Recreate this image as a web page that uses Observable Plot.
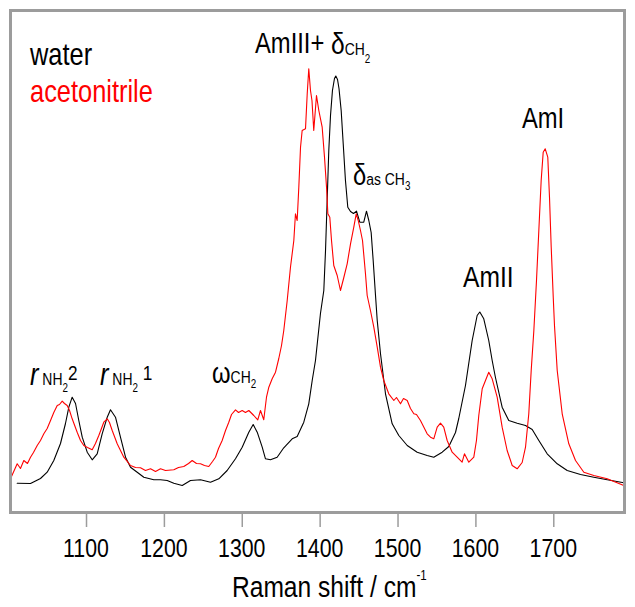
<!DOCTYPE html>
<html>
<head>
<meta charset="utf-8">
<script src="https://cdn.jsdelivr.net/npm/d3@7"></script>
<script src="https://cdn.jsdelivr.net/npm/@observablehq/plot@0.6"></script>
<style>
  html, body { margin: 0; padding: 0; background: white; }
  #chart text { white-space: pre; }
</style>
</head>
<body>
<div id="chart"></div>
<script>
// Raman shift (cm-1) and intensity (arbitrary units)
const waterX = [1011.0,1028.1,1040.9,1049.5,1058.0,1066.6,1073.0,1077.3,1081.6,1085.9,1090.1,1094.5,1100.9,1107.3,1113.7,1120.1,1126.6,1130.8,1137.2,1143.6,1150.1,1156.5,1165.1,1173.6,1186.4,1195.0,1203.6,1212.1,1222.9,1233.5,1246.4,1259.2,1269.9,1280.6,1291.3,1299.9,1308.4,1314.0,1319.2,1325.6,1329.8,1336.2,1344.8,1353.3,1364.1,1370.5,1379.0,1385.4,1389.8,1394.0,1400.4,1404.7,1406.9,1409.0,1411.1,1413.3,1415.8,1418.4,1420.1,1422.3,1424.2,1427.0,1429.6,1432.5,1435.5,1439.0,1442.8,1446.7,1450.9,1456.0,1459.5,1462.5,1465.5,1468.1,1471.1,1473.3,1477.5,1483.9,1492.5,1501.0,1511.8,1524.6,1537.4,1545.9,1556.7,1565.2,1573.8,1578.0,1586.6,1595.2,1601.6,1605.0,1610.1,1616.5,1620.9,1625.1,1633.7,1642.2,1653.0,1663.7,1672.3,1680.8,1691.5,1704.4,1717.2,1734.3,1751.4,1768.6,1789.9];
const waterY = [29.3,29,34,40.3,52,69,89,105.3,115.3,109,92,75.3,60.3,52.7,58.7,78.7,95.3,102.7,95.3,75.3,55.3,45.3,40.3,35.3,32.7,32.7,32,29.3,27,32,32.7,30.3,33.7,42,53.7,65.3,80.3,88,80.3,65.3,53.7,52.7,55.3,64.7,73.7,76,90.3,108.7,132,152,199,222,262,312,362,397,422,434,436.5,433,424,402,369,332,305.3,301,299,301.3,290.3,290.3,301.3,292,280,252,217,192,158.7,118.7,88.7,77,67,60.3,57,55.3,60.3,66,80,94,127,172,197,200.5,193.7,172,152,135,105.3,92,89.3,87,83,72,58.7,48.7,42,38,35.3,32.7,29.7];

const acnX = [1002.4,1011.0,1015.2,1019.5,1024.2,1028.1,1031.9,1036.7,1040.9,1045.2,1049.5,1053.8,1058.0,1062.4,1065.3,1068.8,1071.7,1075.2,1078.2,1081.6,1088.0,1092.3,1096.5,1101.3,1107.3,1111.5,1115.8,1122.2,1126.6,1129.5,1133.0,1139.4,1147.9,1156.5,1162.9,1169.3,1175.7,1182.2,1188.6,1195.0,1201.4,1212.1,1218.1,1224.9,1231.0,1235.7,1241.2,1246.4,1251.5,1257.0,1261.8,1265.6,1269.5,1274.2,1278.5,1282.7,1286.2,1291.3,1295.2,1299.9,1304.1,1308.4,1314.8,1319.9,1323.4,1327.6,1331.1,1334.1,1338.4,1342.7,1346.9,1350.4,1353.3,1357.7,1361.9,1366.2,1368.3,1370.5,1372.6,1374.8,1376.9,1381.2,1383.4,1385.4,1387.6,1389.5,1391.8,1395.3,1398.3,1402.6,1405.6,1408.2,1409.9,1412.4,1414.6,1417.5,1421.9,1426.1,1430.4,1434.7,1439.0,1443.2,1446.3,1448.9,1451.8,1454.4,1458.2,1460.4,1464.6,1468.9,1473.3,1477.5,1481.7,1488.1,1494.6,1498.0,1503.2,1507.0,1511.8,1516.0,1520.3,1523.7,1528.8,1532.7,1537.4,1541.7,1545.9,1550.3,1554.5,1558.7,1563.1,1569.5,1575.9,1582.3,1585.3,1590.9,1597.3,1600.7,1603.7,1608.1,1612.3,1616.5,1620.9,1627.3,1633.7,1640.1,1646.6,1653.0,1659.4,1663.7,1667.9,1671.0,1674.4,1677.8,1680.8,1683.8,1686.4,1689.0,1692.3,1694.5,1696.7,1699.3,1700.9,1704.4,1710.8,1719.3,1727.9,1738.6,1751.4,1768.6,1789.9];
const acnY = [33.7,48.7,44,52,49,55.3,60,67,72,78.7,84,92,100,107,108,111.3,109,107,102,93.7,80.3,72,67,65,62.7,69,77,90.3,93.7,90,82,68.7,55.3,47,45,44.7,42,43.7,41,43.7,42,42.7,45,46,49,52,49,48.7,47,46,51,55.3,64,72,82,90.3,98,102.7,100,102,100,102,97,92.7,102,92.7,115.3,125.3,133.7,140.3,154,167,182,212,245.3,272,298.7,292,325.3,365.3,382,383.7,418.7,443.7,422,412,382,417,402,385.3,355.3,325.3,298.7,295.3,272,247,237,222,235,248.7,268.7,285.3,298.7,292,282,272,238.7,217,202,185.3,165.3,145.3,132,118.7,112,115,108.7,114,112,104,98.7,98,92,86,78.7,75.3,73.7,85.3,89.3,85.3,72,60.3,55.3,50.3,58.7,50.3,55.3,72,97,123.7,132,140.3,133.7,115.3,85.3,62,47,43.7,50,65.3,98.7,142,182,232,282,332,360.3,363.7,355.3,315.3,265.3,215.3,187,142,98.7,68.7,52,40.3,37,33.7,27];

const xTicks = [1100, 1200, 1300, 1400, 1500, 1600, 1700];

// Text labels: anchor (Raman shift, intensity) and parts [text, size, baseline shift, italic]
const annotations = [
  {x: 1028.1, y: 447, color: "black", parts: [["water", 31]]},
  {x: 1028.1, y: 410, color: "#ff0000", parts: [["acetonitrile", 31]]},
  {x: 1317.0, y: 459, color: "black", parts: [["AmIII+ ", 29], ["δ", 30, 1], ["CH", 17, 2], ["2", 12, 10]]},
  {x: 1442.8, y: 327, color: "black", parts: [["δ", 29], ["as CH", 17], ["3", 12, 5]]},
  {x: 1659.8, y: 384, color: "black", parts: [["AmI", 29]]},
  {x: 1584.1, y: 225, color: "black", parts: [["AmII", 30]]},
  {x: 1028.1, y: 127, color: "black", parts: [["r", 31, 0, true], [" NH", 17], ["2", 12, 7], ["2", 21, -5]]},
  {x: 1118.0, y: 127, color: "black", parts: [["r", 31, 0, true], [" NH", 17], ["2", 12, 7], [" 1", 21, -5]]},
  {x: 1261.8, y: 129, color: "black", parts: [["ω", 29], ["CH", 17], ["2", 12, 5]]},
  {x: 1287.4, y: -85, color: "black", parts: [["Raman shift / cm", 30], ["-1", 14, -17]]}
];

const FONT = "'Liberation Sans', Arial, sans-serif";
const NARROW = 0.82; // the reference uses a narrow sans face

const water = waterX.map((x, i) => ({x, y: waterY[i]}));
const acn = acnX.map((x, i) => ({x, y: acnY[i]}));

const plot = Plot.plot({
  width: 635,
  height: 607,
  marginLeft: 10,
  marginRight: 11,
  marginTop: 10,
  marginBottom: 95,
  style: {fontFamily: FONT, fontSize: "26px", background: "white", color: "black"},
  x: {domain: [1002.4, 1790.8], ticks: xTicks, tickSize: 15, tickPadding: 9, tickFormat: d => String(d), label: null},
  y: {domain: [0, 502], axis: null},
  marks: [
    Plot.line(water, {x: "x", y: "y", stroke: "black", strokeWidth: 1.1}),
    Plot.line(acn, {x: "x", y: "y", stroke: "#ff0000", strokeWidth: 1.1}),
    Plot.frame({stroke: "#9c9c9c", strokeWidth: 3})
  ]
});

document.getElementById("chart").appendChild(plot);

const svg = d3.select(plot);
// grey tick lines; tick labels redrawn below in the narrow style
svg.selectAll("[aria-label^='x-axis'] line, [aria-label^='x-axis'] path").attr("stroke", "#9c9c9c").attr("stroke-width", 1.5);
svg.selectAll("[aria-label^='x-axis'] text").remove();

const xs = plot.scale("x"), ys = plot.scale("y");
const g = svg.append("g").attr("aria-label", "labels").attr("text-anchor", "start");

const tickBase = ys.apply(0) + 45;
for (const t of xTicks) {
  g.append("text")
    .attr("transform", `translate(${xs.apply(t)},${tickBase}) scale(${NARROW},1)`)
    .attr("text-anchor", "middle")
    .attr("fill", "black")
    .attr("font-size", 26)
    .style("font-family", FONT)
    .text(String(t));
}

for (const a of annotations) {
  const t = g.append("text")
    .attr("transform", `translate(${xs.apply(a.x)},${ys.apply(a.y)}) scale(${NARROW},1)`)
    .attr("text-anchor", "start")
    .attr("fill", a.color)
    .style("font-family", FONT);
  let prev = 0;
  for (const [s, size, shift = 0, italic] of a.parts) {
    t.append("tspan")
      .attr("dy", shift - prev)
      .attr("font-size", size)
      .attr("font-style", italic ? "italic" : null)
      .text(s);
    prev = shift;
  }
}
</script>
</body>
</html>
